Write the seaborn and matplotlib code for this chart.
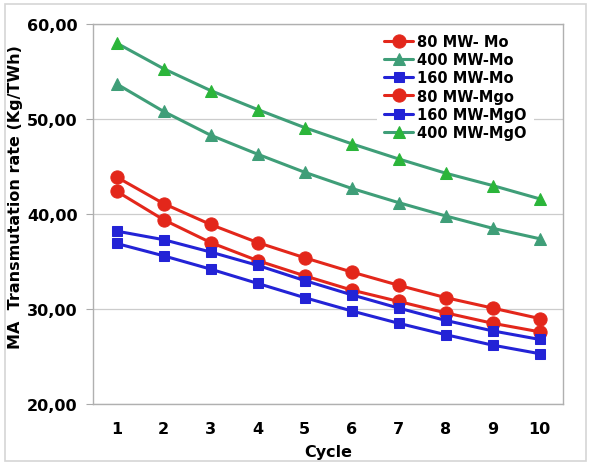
import numpy as np
import pandas as pd
import matplotlib
matplotlib.use("Agg")
import matplotlib.pyplot as plt
import seaborn as sns
from matplotlib.ticker import FuncFormatter, FixedLocator
from matplotlib.patches import Rectangle

sns.set_style("white")
plt.rcParams['font.family'] = ['DejaVu Sans']
plt.rcParams['text.color'] = 'black'
plt.rcParams['axes.labelcolor'] = 'black'
plt.rcParams['xtick.color'] = 'black'
plt.rcParams['ytick.color'] = 'black'

# data
cycles = [1, 2, 3, 4, 5, 6, 7, 8, 9, 10]
mw80_mo = [42.4, 39.4, 37.0, 35.1, 33.5, 32.0, 30.8, 29.6, 28.5, 27.6]
mw400_mo = [53.7, 50.8, 48.3, 46.3, 44.4, 42.7, 41.2, 39.8, 38.5, 37.4]
mw160_mo = [36.9, 35.6, 34.2, 32.7, 31.2, 29.8, 28.5, 27.3, 26.2, 25.3]
mw80_mgo = [43.9, 41.1, 38.9, 37.0, 35.4, 33.9, 32.5, 31.2, 30.1, 29.0]
mw160_mgo = [38.2, 37.3, 36.0, 34.6, 33.0, 31.5, 30.1, 28.8, 27.7, 26.8]
mw400_mgo = [58.0, 55.3, 53.0, 51.0, 49.1, 47.4, 45.8, 44.3, 43.0, 41.6]

series = [
    ("80 MW- Mo", mw80_mo, "#e3271b", "#e3271b", "o", 9.5),
    ("400 MW-Mo", mw400_mo, "#3f9e78", "#3f9e78", "^", 9),
    ("160 MW-Mo", mw160_mo, "#2323d6", "#2323d6", "s", 6.5),
    ("80 MW-Mgo", mw80_mgo, "#e3271b", "#e3271b", "o", 9.5),
    ("160 MW-MgO", mw160_mgo, "#2323d6", "#2323d6", "s", 6.5),
    ("400 MW-MgO", mw400_mgo, "#3f9e78", "#2bb53a", "^", 9),
]

fig = plt.figure(figsize=(5.89, 4.64), dpi=100)
ax = fig.add_axes([93 / 589, 1 - 405 / 464, 470 / 589, 380 / 464])

for name, vals, lc, mc, mk, ms in series:
    sns.lineplot(x=cycles, y=vals, ax=ax, color=lc, marker=mk, markersize=ms,
                 markerfacecolor=mc, markeredgecolor=mc, linewidth=2.2,
                 label=name)

ax.set_xlim(0.5, 10.5)
ax.set_ylim(20, 60)
ax.set_yticks([20, 30, 40, 50, 60])
ax.yaxis.set_major_formatter(FuncFormatter(lambda v, p: f"{v:.2f}".replace(".", ",")))
ax.set_xticks(cycles)
ax.xaxis.set_minor_locator(FixedLocator(np.arange(0.5, 11, 1)))
ax.tick_params(axis="x", which="major", length=0, pad=12)
ax.tick_params(axis="x", which="minor", length=5, color="#aaaaaa", direction="out")
ax.tick_params(axis="y", length=5, color="#aaaaaa", direction="out", left=True, pad=6)
for lab in ax.get_xticklabels() + ax.get_yticklabels():
    lab.set_fontweight("bold")
    lab.set_fontsize(11.5)
ax.yaxis.grid(True, color="#cccccc", linewidth=0.9)
ax.set_axisbelow(True)
for sp in ax.spines.values():
    sp.set_color("#b0b0b0")
    sp.set_linewidth(1.0)
    sp.set_zorder(6)

ax.set_xlabel("Cycle", fontsize=11.5, fontweight="bold", labelpad=6)
ax.set_ylabel("MA  Transmutation rate (Kg/TWh)", fontsize=11.5, fontweight="bold")
ax.yaxis.set_label_coords(-70 / 470, 0.547)

leg = ax.legend(loc="upper left", bbox_to_anchor=(0.604, 0.993), borderaxespad=0,
                frameon=True, fancybox=False,
                prop={"weight": "bold", "size": 10.5}, handlelength=2.0,
                labelspacing=0.22, handletextpad=0.25, borderpad=0.5)
leg.get_frame().set_edgecolor("none")
leg.get_frame().set_facecolor("white")
leg.get_frame().set_alpha(1)

fig.patches.append(Rectangle((5 / 589, 2 / 464), 581 / 589, 457 / 464,
                             transform=fig.transFigure, fill=False,
                             edgecolor="#d5d5d5", linewidth=1.2))

plt.savefig("out.png", dpi=100)
